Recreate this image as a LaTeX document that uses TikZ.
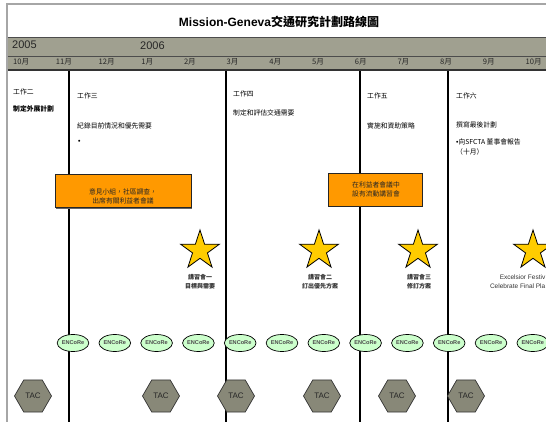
\documentclass[tikz,border=0pt]{standalone}
\usepackage{fontspec}
\setmainfont{Liberation Sans}
\newfontfamily\cjk{Noto Sans CJK TC}
\usetikzlibrary{shapes.geometric,shadows}
\definecolor{bandgray}{RGB}{160,160,144}
\definecolor{tacgray}{RGB}{136,136,120}
\definecolor{boxorange}{RGB}{255,153,0}
\definecolor{stargold}{RGB}{255,204,0}
\definecolor{encgreen}{RGB}{204,255,204}
\tikzset{
  task/.style={anchor=west,inner sep=0pt,font=\cjk\fontsize{6.8}{9}\selectfont},
  year/.style={anchor=west,inner sep=0pt,text=black!85,font=\fontsize{11}{12}\selectfont},
  month/.style={anchor=west,inner sep=0pt,text=black!85,font=\cjk\fontsize{7.6}{9}\selectfont},
  obox/.style={draw=black!85,fill=boxorange,line width=0.8pt,inner sep=0pt,
    drop shadow={shadow xshift=1pt,shadow yshift=-1pt,opacity=1,fill=black!60}},
  boxtext/.style={align=center,inner sep=0pt,text=black!85,font=\cjk\fontsize{6.8}{9}\selectfont},
  gstar/.style={star,star points=5,star point ratio=2.618,minimum size=41pt,inner sep=0pt,
    draw=black,line width=0.8pt,fill=stargold},
  startext/.style={align=center,inner sep=0pt,text=black!80,font=\cjk\bfseries\fontsize{6}{9}\selectfont},
  encore/.style={ellipse,draw=black,line width=0.7pt,fill=encgreen,minimum width=28pt,
    minimum height=17pt,inner sep=0pt,text=black!70,font=\bfseries\fontsize{5.6}{6}\selectfont},
  tac/.style={regular polygon,regular polygon sides=6,minimum size=37pt,inner sep=0pt,
    draw=black!80,line width=0.7pt,fill=tacgray,text=black!85,font=\fontsize{8}{9}\selectfont}
}
\begin{document}
\begin{tikzpicture}[x=1pt,y=-1pt]
\useasboundingbox (0,0) rectangle (546,422);
\draw[black!35,line width=1.5pt] (7,422) -- (7,4) -- (546,4);
\node[inner sep=0pt,font=\bfseries\fontsize{12}{14}\selectfont] (title) at (279,22) {Mission-Geneva{\cjk 交通研究計劃路線圖}};
\fill[bandgray] (7.8,37) rectangle (546,71);
\draw[black!70,line width=0.8pt] (7.8,37) -- (546,37);
\draw[black!70,line width=0.8pt] (7.8,56) -- (546,56);
\draw[black!80,line width=2pt] (7.8,70) -- (546,70);
\node[year] (y2005) at (12,45) {2005};
\node[year] (y2006) at (140,46) {2006};
\foreach \m [count=\i from 0] in {10,11,12,1,2,3,4,5,6,7,8,9,10}
  \node[month] (m\i) at (13+42.7*\i,62) {\m 月};
\foreach \x in {69,226,360,448}
  \draw[line width=1.1pt] (\x,71) -- (\x,422);
\node[task] (w2) at (13,92) {工作二};
\node[task,font=\cjk\bfseries\fontsize{6.8}{9}\selectfont] (w2a) at (13,109) {制定外展計劃};
\node[task] (w3) at (77,96) {工作三};
\node[task] (w3a) at (77,126) {紀錄目前情況和優先需要};
\node[task] (w3b) at (78,142) {\rmfamily\bfseries •};
\node[task] (w4) at (233,94) {工作四};
\node[task] (w4a) at (233,113) {制定和評估交通需要};
\node[task] (w5) at (367,96) {工作五};
\node[task] (w5a) at (367,126) {實施和資助策略};
\node[task] (w6) at (456,96) {工作六};
\node[task] (w6a) at (456,125) {撰寫最後計劃};
\node[task] (w6b) at (456,142) {{\rmfamily •}向SFCTA 董事會報告};
\node[task] (w6c) at (456,152) {（十月）};
\node[obox,minimum width=136pt,minimum height=33pt] (ob1) at (123,191.2) {};
\node[boxtext] (ob1t) at (123,196.5) {意見小組，社區調查，\\出席有關利益者會議};
\node[obox,minimum width=94pt,minimum height=33pt] (ob2) at (375,189.5) {};
\node[boxtext] (ob2t) at (376,189.7) {在利益者會議中\\設有流動講習會};
\foreach \x [count=\i] in {200,319,418,533}
  \node[gstar] (s\i) at (\x,250.5) {};
\node[startext] (s1t) at (200,281.5) {講習會一\\目標與需要};
\node[startext] (s2t) at (320,281.5) {講習會二\\訂出優先方案};
\node[startext] (s3t) at (419,281.5) {講習會三\\修訂方案};
\node[startext,align=right,anchor=east,font=\fontsize{6.5}{8.5}\selectfont] (s4t) at (545.5,281.8) {Excelsior Festiv\\Celebrate Final Pla};
\foreach \i in {0,...,11}
  \node[encore] (e\i) at (73+41.8*\i,343) {ENCoRe};
\foreach \x [count=\i] in {33,161,236,322,397,466}
  \node[tac] (t\i) at (\x,396) {TAC};
\end{tikzpicture}
\end{document}
